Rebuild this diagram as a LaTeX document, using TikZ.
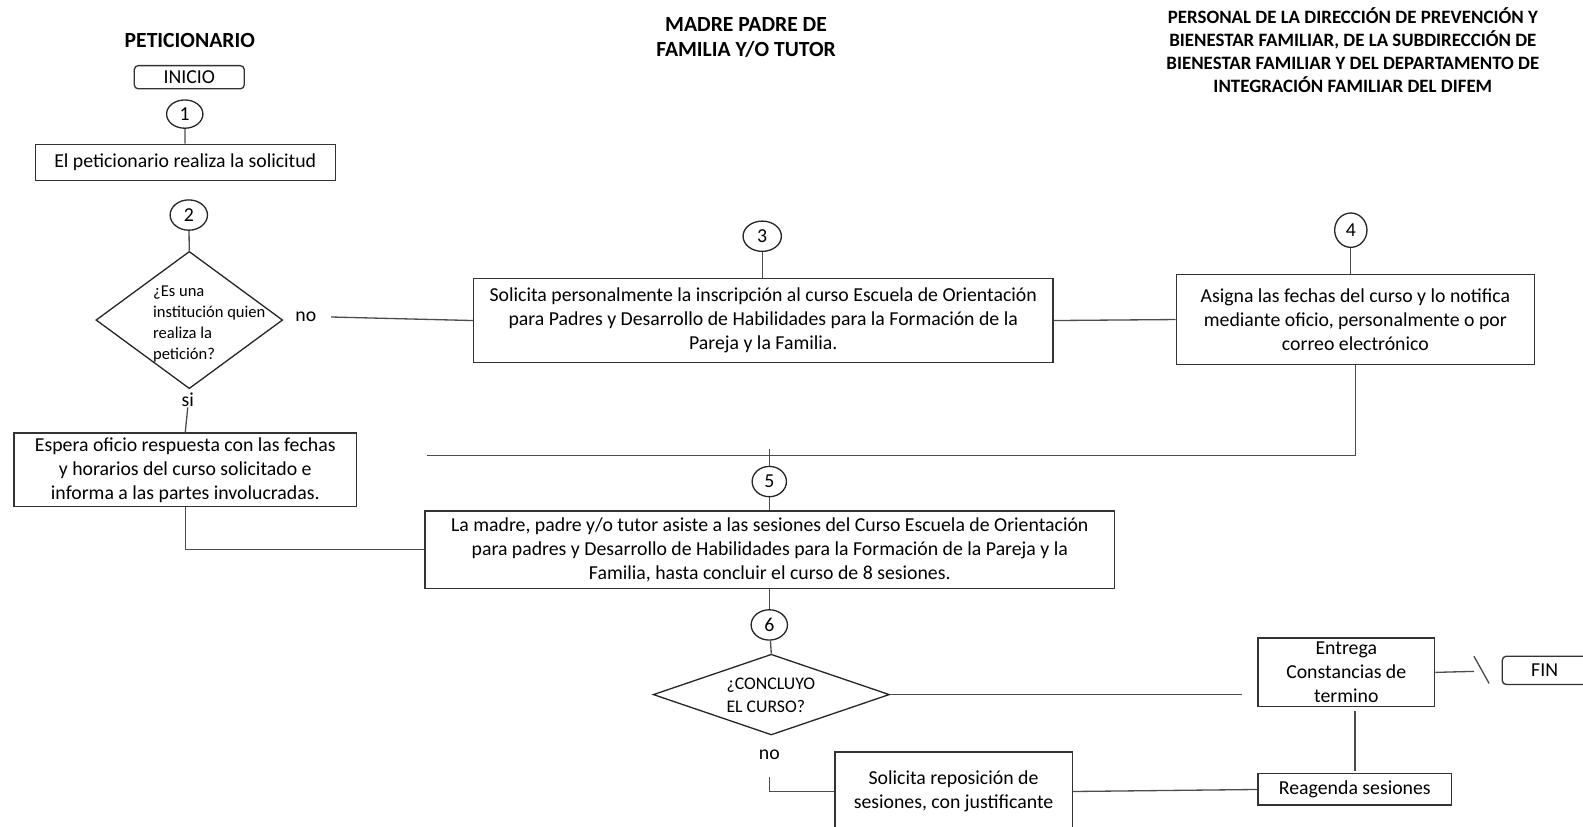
\documentclass[tikz,border=0pt]{standalone}
\usepackage{fontspec}
\setmainfont{Carlito}
\usetikzlibrary{shapes.geometric}

\tikzset{
	box/.style	= {draw=black!80, rectangle, align=center, inner sep=0pt, font=\fontsize{9.8}{12}\selectfont},
	term/.style	= {draw=black!80, rectangle, rounded corners=2pt, inner sep=0pt, font=\fontsize{9.8}{12}\selectfont},
	num/.style	= {draw=black!85, ellipse, inner sep=0pt, font=\fontsize{9.8}{12}\selectfont},
	decision/.style	= {draw=black!85, diamond, inner sep=0pt},
	lane/.style	= {align=center, inner sep=0pt, font=\bfseries\fontsize{10.7}{12.5}\selectfont},
	word/.style	= {inner sep=0pt, font=\fontsize{9.8}{12}\selectfont},
	link/.style	= {draw=black!70, line width=0.65pt}
}

\begin{document}
\begin{tikzpicture}[x=0.5pt, y=-0.5pt, line width=0.65pt]
	\useasboundingbox (0,0) rectangle (1568,819);

	\node (L1) at ( 188,  40)	[lane]	{PETICIONARIO};
	\node (L2) at ( 739,37.5)	[lane]	{MADRE PADRE DE\\FAMILIA Y/O TUTOR};
	\node (L3) at (1340,49.5)	[lane, font=\bfseries\fontsize{9.35}{11.5}\selectfont]	{PERSONAL DE LA DIRECCIÓN DE PREVENCIÓN Y\\BIENESTAR FAMILIAR, DE LA SUBDIRECCIÓN DE\\BIENESTAR FAMILIAR Y DEL DEPARTAMENTO DE\\INTEGRACIÓN FAMILIAR DEL DIFEM};

	\node (ini) at (187.5, 76.5)	[term, minimum width=54.5pt, minimum height=11.5pt]	{INICIO};
	\node (n1) at ( 183, 113)	[num, minimum width=18pt, minimum height=14pt]	{1};
	\node (b1) at (183.5, 161)	[box, minimum width=148.5pt, minimum height=18pt]	{El peticionario realiza la solicitud};
	\node (n2) at ( 187, 213)	[num, minimum width=18.5pt, minimum height=15pt]	{2};
	\node (d1) at (187.5, 317)	[decision, minimum width=92.5pt, minimum height=68pt]	{};
	\node (q1) at ( 151, 321)	[anchor=west, align=left, inner sep=0pt, font=\fontsize{8.2}{10.5}\selectfont]	{¿Es una\\institución quien\\realiza la\\petición?};
	\node (si) at ( 186, 396)	[word]	{si};
	\node (no1) at ( 303, 314)	[word]	{no};
	\node (b2) at (183.5,465.5)	[box, minimum width=169.5pt, minimum height=36.5pt]	{Espera oficio respuesta con las fechas\\y horarios del curso solicitado e\\informa a las partes involucradas.};

	\node (n3) at ( 755, 234)	[num, minimum width=19pt, minimum height=15pt]	{3};
	\node (b3) at ( 756,317.5)	[box, minimum width=287pt, minimum height=41.5pt]	{Solicita personalmente la inscripción al curso Escuela de Orientación\\para Padres y Desarrollo de Habilidades para la Formación de la\\Pareja y la Familia.};
	\node (n4) at (1338, 228)	[num, minimum width=16pt, minimum height=17pt]	{4};
	\node (b4) at (1342.5,316.5)	[box, minimum width=177.5pt, minimum height=44.5pt]	{Asigna las fechas del curso y lo notifica\\mediante oficio, personalmente o por\\correo electrónico};

	\node (n5) at ( 762, 477)	[num, minimum width=17pt, minimum height=15pt]	{5};
	\node (b5) at (762.5,544.5)	[box, minimum width=341.5pt, minimum height=38.5pt]	{La madre, padre y/o tutor asiste a las sesiones del Curso Escuela de Orientación\\para padres y Desarrollo de Habilidades para la Formación de la Pareja y la\\Familia, hasta concluir el curso de 8 sesiones.};
	\node (n6) at ( 762, 619)	[num, minimum width=18pt, minimum height=15pt]	{6};
	\node (d2) at ( 764, 688)	[decision, minimum width=117pt, minimum height=40pt]	{};
	\node (q2) at ( 719, 689)	[anchor=west, align=left, inner sep=0pt, font=\fontsize{8.8}{11.5}\selectfont]	{¿CONCLUYO\\EL CURSO?};
	\node (no2) at ( 762, 748)	[word]	{no};
	\node (b8) at (944.5, 784)	[box, minimum width=117.5pt, minimum height=39pt]	{Solicita reposición de\\sesiones, con justificante};

	\node (b6) at (1333.5, 666)	[box, minimum width=87.5pt, minimum height=34pt]	{Entrega\\Constancias de\\termino};
	\node (b7) at (1342,782)	[box, minimum width=96pt, minimum height=15.5pt]	{Reagenda sesiones};
	\node (fin) at (1534, 664)	[term, minimum width=46pt, minimum height=14pt]	{};
	\node (fint) at (1530, 664)	[word]	{FIN};

	\coordinate (m5) at ( 423, 451);
	\coordinate (t5) at ( 762, 445);
	\coordinate (e6) at (1230, 688);
	\coordinate (c6) at (1460, 665);
	\coordinate (s1) at (1460, 650);
	\coordinate (s2) at (1475, 677);

	\draw[link] (n1) -- (b1);
	\draw[link] (n2) -- (d1.north);
	\draw[link] (si.south) -- (b2.north);
	\draw[link] (no1.east) ++(14,0) -- (b3.west);
	\draw[link] (n3) -- (n3 |- b3.north);
	\draw[link] (b3.east) -- (b4.west);
	\draw[link] (n4) -- (n4 |- b4.north);
	\draw[link] (b4.south) |- (m5);
	\draw[link] (t5) -- (n5);
	\draw[link] (n5) -- (n5 |- b5.north);
	\draw[link] (b2.south) |- (b5.west);
	\draw[link] (n5 |- b5.south) -- (n6);
	\draw[link] (n6) -- (d2.north);
	\draw[link] (d2.east) -- (e6);
	\draw[link] (b6.east) -- (c6);
	\draw[link] (s1) -- (s2);
	\draw[link, shorten <=2pt, shorten >=1pt] (b6.south -| b7.north) -- (b7.north);
	\draw[link] (b7.west) -- (b8.east);
	\draw[link, shorten <=8pt] (no2.south) |- (b8.west);
\end{tikzpicture}
\end{document}
